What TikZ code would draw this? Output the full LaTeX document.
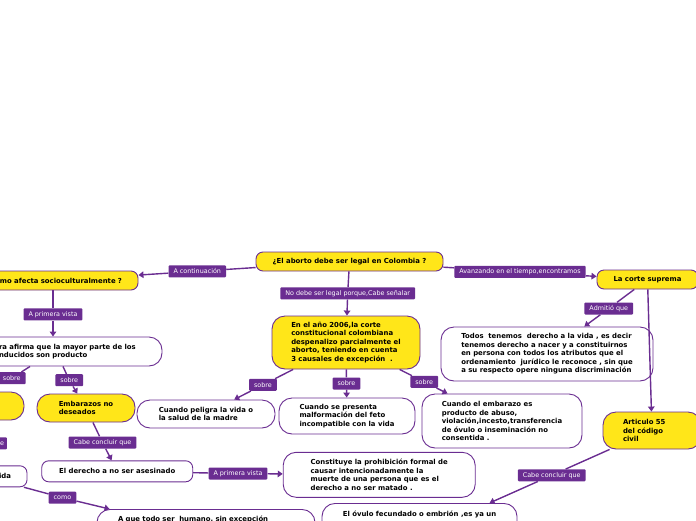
\documentclass[tikz,border=0pt]{standalone}
\usepackage{fontspec}
\setmainfont{DejaVu Sans}
\usetikzlibrary{arrows.meta}
\usetikzlibrary{calc}

\definecolor{mapyellow}{RGB}{255,230,25}
\definecolor{mappurple}{RGB}{106,45,145}
\newcommand\topicfont{\bfseries\fontsize{6.9}{8.5}\selectfont}
\newcommand\linkfont{\fontsize{6.4}{7.5}\selectfont}

\tikzset{
  topic/.style={draw=mappurple, line width=0.9pt, fill=mapyellow, rounded corners=7pt,
    font=\topicfont, align=left, inner sep=0pt},
  bigtopic/.style={topic, rounded corners=13pt},
  note/.style={topic, fill=white},
  bignote/.style={bigtopic, fill=white},
  link/.style={fill=mappurple, text=white, font=\linkfont, rounded corners=1pt,
    inner xsep=5pt, inner ysep=1pt, minimum height=12pt},
  conn/.style={draw=mappurple, line width=1.4pt},
  arr/.style={conn, -{Triangle[length=5pt,width=6.5pt]}},
}

\begin{document}
\begin{tikzpicture}[x=1pt,y=-1pt]
  \useasboundingbox (0,0) rectangle (696,520);
  \clip (0,0) rectangle (696,520);
  % temas
  \node[topic, minimum width=187, minimum height=19] (main) at (349.5,261.5) {¿El aborto debe ser legal en Colombia ?};
  \node[topic, text width=138, inner xsep=16, align=right, minimum height=19] (afecta) at (53,280.5) {mo afecta socioculturalmente ?};
  \node[topic, minimum width=101, minimum height=19] (corte) at (647.5,279.5) {La corte suprema};
  \node[bigtopic, minimum width=148, minimum height=53] (ano) at (346,342.5) {En el año 2006,la corte\\constitucional colombiana\\despenalizo parcialmente el\\aborto, teniendo en cuenta\\3 causales de excepción\ \ .};
  \node[bignote, text width=144, inner xsep=19, minimum height=29] (afirma) at (71,351.5) {ra afirma que la mayor parte de los\\nducidos son producto};
  \node[bigtopic, minimum width=184, minimum height=28] (amarillo) at (-68,406) {};
  \node[bigtopic, minimum width=98, minimum height=28] (embarazos) at (86,408) {Embarazos no\\deseados};
  \node[bignote, minimum width=138, minimum height=28] (peligra) at (206,414) {Cuando peligra la vida o\\la salud de la madre};
  \node[bignote, minimum width=136, minimum height=36] (malformacion) at (347,416) {Cuando se presenta\\malformación del feto\\incompatible con la vida};
  \node[bignote, minimum width=160, minimum height=54] (abuso) at (502,421) {Cuando el embarazo es\\producto de abuso,\\violación,incesto,transferencia\\de óvulo o inseminación no\\consentida .};
  \node[bignote, minimum width=212, minimum height=54] (todos) at (547,354) {Todos\ \ tenemos\ \ derecho a la vida , es decir\\tenemos derecho a nacer y a constituirnos\\en persona con todos los atributos que el\\ordenamiento\ \ jurídico le reconoce , sin que\\a su respecto opere ninguna discriminación};
  \node[bigtopic, text width=58, inner xsep=20, minimum height=37] (art) at (652,430.5) {Articulo 55\\del código\\civil};
  \node[note, minimum width=151, minimum height=21] (derecho) at (117.2,471.3) {El derecho a no ser asesinado};
  \node[note, text width=55, inner xsep=16, align=right, minimum height=21] (vida) at (-16.5,476.3) {ida};
  \node[bignote, minimum width=192, minimum height=45] (constituye) at (379.2,474.8) {Constituye la prohibición formal de\\causar intencionadamente la\\muerte de una persona que es el\\derecho a no ser matado .};
  \node[bignote, anchor=north, text width=176, inner xsep=21, text height=5.5, text depth=15, inner ysep=6.5] (todoser) at (206,509) {A que todo ser\ \ humano, sin excepción};
  \node[bignote, anchor=north, minimum width=195, text height=5.5, text depth=15, inner ysep=8] (ovulo) at (419.5,503) {El óvulo fecundado o embrión ,es ya un};
  % enlaces
  \node[link] (lblCont) at (197.3,271.3) {A continuación};
  \node[link] (lblNo) at (347.7,293.3) {No debe ser legal porque,Cabe señalar};
  \node[link] (lblAvz) at (520,271.8) {Avanzando en el tiempo,encontramos};
  \node[link] (lblPV1) at (53,314.3) {A primera vista};
  \node[link] (lblAdm) at (608.8,308.5) {Admitió que};
  \node[link] (lblSobreL) at (11.8,378.2) {sobre};
  \node[link] (lblSobre2) at (69.3,380.2) {sobre};
  \node[link] (lblSobre3) at (263,384.8) {sobre};
  \node[link] (lblSobre4) at (346.5,383.5) {sobre};
  \node[link] (lblSobre5) at (424.2,381.8) {sobre};
  \node[link] (lblCab1) at (102.5,442.5) {Cabe concluir que};
  \node[link, inner xsep=3pt] (lblE) at (2,443.3) {e};
  \node[link] (lblPV2) at (238,473.5) {A primera vista};
  \node[link] (lblComo) at (62.5,497.7) {como};
  \node[link] (lblCab2) at (551.7,475.3) {Cabe concluir que};
  % conectores
  \draw[conn] (main) -- (lblCont);
  \draw[arr] (lblCont) -- (afecta);
  \draw[conn] (main) -- (lblNo);
  \draw[arr] (lblNo) -- (ano);
  \draw[conn] (main) -- (lblAvz);
  \draw[arr] (lblAvz) -- (corte);
  \draw[conn] (lblPV1 |- afecta.south) -- (lblPV1);
  \draw[arr] (lblPV1) -- (lblPV1 |- afirma.north);
  \draw[conn] (corte) -- (lblAdm);
  \draw[arr] (lblAdm) -- (todos);
  \draw[arr] (corte) -- (art);
  \draw[conn] ($(afirma.south)+(-41,0)$) -- (lblSobreL);
  \draw[arr] (lblSobreL) -- (amarillo);
  \draw[conn] ($(afirma.south)+(-8,0)$) -- (lblSobre2);
  \draw[arr] (lblSobre2) -- (embarazos);
  \draw[conn] (ano) -- (lblSobre3);
  \draw[arr] (lblSobre3) -- (peligra);
  \draw[conn] (ano) -- (lblSobre4);
  \draw[arr] (lblSobre4) -- (malformacion);
  \draw[conn] (ano) -- (lblSobre5);
  \draw[arr] (lblSobre5) -- (abuso);
  \draw[conn] (embarazos) -- (lblCab1);
  \draw[arr] (lblCab1) -- (derecho);
  \draw[conn] (derecho) -- (lblPV2);
  \draw[arr] (lblPV2) -- (constituye);
  \draw[conn] (vida) -- (lblComo);
  \draw[arr] (lblComo) -- ($(todoser.north west)+(13,0)$);
  \draw[conn] (art) -- (lblCab2);
  \draw[arr] (lblCab2) -- ($(ovulo.north)+(70,0)$);
\end{tikzpicture}
\end{document}
